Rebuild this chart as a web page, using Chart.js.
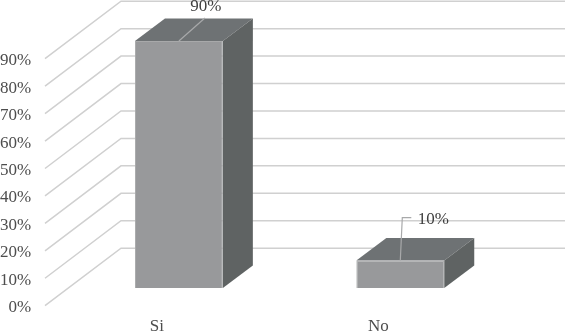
<!DOCTYPE html>
<html><head><meta charset="utf-8">
<style>html,body{margin:0;padding:0;background:#fff}canvas{display:block}</style>
<script src="https://cdn.jsdelivr.net/npm/chart.js@4"></script></head>
<body><canvas id="c" width="565" height="331" style="width:565px;height:331px"></canvas>
<script>
const categories = ['Si', 'No'];
const seriesValues = [90, 10];
const tickValues = [0, 10, 20, 30, 40, 50, 60, 70, 80, 90];

const FONT = '17px "Liberation Serif"';
const TEXT = '#4d4d4d';
const style = {
  grid: '#d0d0d0', front: '#98999b', edge: '#a8a9aa', side: '#5f6363', top: '#6e7274',
  leader: '#a8a9aa',
  wallDx: 76, wallDy: -57.5, floorX: 45,
  barShift: -17.7, depthDx: 30, depthDy: -22.5
};
const leaders = [
  {pts: [[0, 0], [26, -23]], text: [27, -34]},
  {pts: [[0, 0], [2, -43], [11, -43]], text: [33, -41]}
];

const scene = {
  id: 'scene',
  beforeDatasetsDraw(chart) {
    const {ctx, scales: {y}} = chart;
    ctx.save();
    ctx.strokeStyle = style.grid;
    ctx.lineWidth = 1.5;
    y.ticks.forEach(t => {
      const py = y.getPixelForValue(t.value);
      ctx.beginPath();
      ctx.moveTo(style.floorX, py);
      ctx.lineTo(style.floorX + style.wallDx, py + style.wallDy);
      ctx.lineTo(chart.width, py + style.wallDy);
      ctx.stroke();
    });
    chart.getDatasetMeta(0).data.forEach(b => {
      const w = b.width / 2, l = b.x - w, r = b.x + w;
      const t = b.y + style.barShift, bt = b.base + style.barShift;
      const dx = style.depthDx, dy = style.depthDy;
      ctx.fillStyle = style.top;
      ctx.beginPath();
      ctx.moveTo(l, t); ctx.lineTo(l + dx, t + dy); ctx.lineTo(r + dx, t + dy); ctx.lineTo(r, t);
      ctx.closePath(); ctx.fill();
      ctx.fillStyle = style.side;
      ctx.beginPath();
      ctx.moveTo(r, t); ctx.lineTo(r + dx, t + dy); ctx.lineTo(r + dx, bt + dy); ctx.lineTo(r, bt);
      ctx.closePath(); ctx.fill();
    });
    ctx.restore();
  },
  beforeDatasetDraw(chart) {
    chart.ctx.save();
    chart.ctx.translate(0, style.barShift);
  },
  afterDatasetDraw(chart) {
    chart.ctx.restore();
  },
  afterDatasetsDraw(chart) {
    const {ctx} = chart;
    ctx.save();
    chart.getDatasetMeta(0).data.forEach((b, i) => {
      const ox = b.x, oy = b.y + style.barShift, L = leaders[i];
      ctx.strokeStyle = style.leader;
      ctx.lineWidth = 1.2;
      ctx.beginPath();
      L.pts.forEach((p, k) => k ? ctx.lineTo(ox + p[0], oy + p[1]) : ctx.moveTo(ox + p[0], oy + p[1]));
      ctx.stroke();
      ctx.fillStyle = '#404040';
      ctx.font = FONT;
      ctx.textAlign = 'center';
      ctx.textBaseline = 'middle';
      ctx.fillText(seriesValues[i] + '%', ox + L.text[0], oy + L.text[1]);
    });
    ctx.restore();
  }
};

new Chart(document.getElementById('c'), {
  type: 'bar',
  data: {
    labels: categories,
    datasets: [{
      data: seriesValues,
      backgroundColor: style.front,
      borderColor: style.edge,
      borderWidth: 1,
      barPercentage: 0.397,
      categoryPercentage: 1,
      clip: false
    }]
  },
  options: {
    responsive: false,
    animation: false,
    events: [],
    layout: {padding: {top: 58.7, right: 54, left: 0, bottom: 0}},
    plugins: {legend: {display: false}, tooltip: {enabled: false}},
    scales: {
      x: {
        grid: {display: false, drawTicks: false},
        border: {display: false},
        afterFit(s) { s.height = 25.3; },
        ticks: {color: TEXT, font: {family: 'Liberation Serif', size: 17}, labelOffset: -22, padding: 11, maxRotation: 0}
      },
      y: {
        min: 0, max: 90,
        afterBuildTicks(s) { s.ticks = tickValues.map(v => ({value: v})); },
        afterFit(s) { s.width = 68.2; s.paddingTop = 0; s.paddingBottom = 0; },
        grid: {display: false, drawTicks: false},
        border: {display: false},
        ticks: {color: TEXT, font: {family: 'Liberation Serif', size: 17}, padding: 37, labelOffset: 2, callback: v => v + '%'}
      }
    }
  },
  plugins: [scene]
});
</script></body></html>
